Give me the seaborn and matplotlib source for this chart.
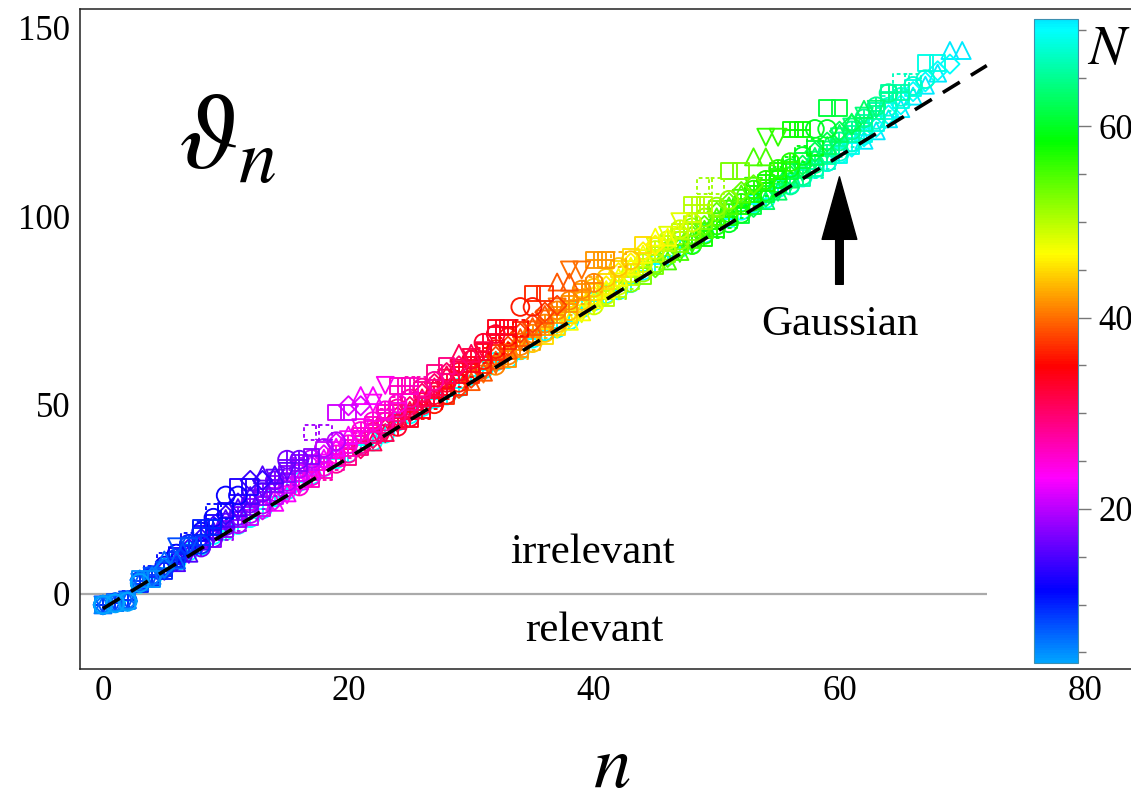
import numpy as np
import matplotlib
matplotlib.use("Agg")
import matplotlib.pyplot as plt
import matplotlib.colors as mcolors
from matplotlib.cm import ScalarMappable
from matplotlib.ticker import MultipleLocator, FixedLocator
import seaborn as sns

# ---------------------------------------------------------------- data
# theta_n of the truncation with N couplings; each list holds the last
# eigenvalues of that truncation, i.e. n = N - len(list) ... N - 1
TAILS_BLUE = {
    4:  [-3.0, -2.6, -2.2, 2.8],
    5:  [-3.0, -2.5, -1.9, 3.9, 3.9],
    6:  [-3.0, -2.4, -2.0, 3.6, 4.3, 6.8],
    7:  [-3.0, -2.3, -1.6, 3.2, 4.8, 8.9, 8.9],
    8:  [-3.0, -2.4, -1.7, 3.0, 4.6, 6.2, 12.4, 12.4],
    9:  [-3.0, -2.3, -1.8, 3.4, 4.9, 6.6, 9.4, 13.0, 13.0],
    10: [-3.0, -2.5, -1.8, 2.6, 4.4, 6.0, 9.0, 12.6, 17.5, 17.5],
    11: [-1.5, 3.3, 5.2, 8.6, 10.8, 14.1, 16.9, 21.8, 21.8],
    12: [2.8, 4.6, 7.4, 10.6, 13.2, 16.4, 20.1, 26.0, 26.0],
    13: [4.6, 6.7, 9.9, 12.6, 15.9, 18.8, 22.0, 28.2, 28.2],
    14: [6.2, 8.7, 11.9, 14.6, 17.9, 20.8, 24.0, 30.0, 30.0],
}
TAILS_PURPLE = {
    15: [8.2, 10.7, 13.9, 16.6, 19.9, 22.8, 26.0, 31.5, 31.5],
    16: [10.4, 13.1, 15.6, 18.9, 21.6, 25.1, 27.7, 30.6, 32.4],
    17: [12.2, 14.7, 17.9, 20.6, 23.9, 26.8, 30.0, 35.5, 35.5],
    18: [14.4, 17.1, 19.6, 22.9, 25.6, 29.1, 31.7, 34.6, 36.4],
    19: [16.2, 18.7, 21.9, 24.6, 27.9, 30.8, 34.0, 42.7, 42.7],
    20: [18.4, 21.1, 23.6, 26.9, 29.6, 33.1, 35.7, 38.6, 40.4],
    21: [20.2, 22.7, 25.9, 28.6, 31.9, 34.8, 38.0, 48.0, 48.0],
    22: [22.2, 24.7, 27.9, 30.6, 33.9, 36.8, 40.0, 49.8, 49.8],
    23: [24.2, 26.7, 29.9, 32.6, 35.9, 38.8, 42.0, 52.5, 52.5],
    24: [26.2, 28.7, 31.9, 34.6, 37.9, 40.8, 44.0, 50.5, 55.2],
}
TAILS_RED = {
    25: [28.4, 31.1, 33.6, 36.9, 39.6, 43.1, 45.7, 48.6, 50.4],
    26: [30.2, 32.7, 35.9, 38.6, 41.9, 44.8, 48.0, 55.0, 55.0],
    27: [32.2, 34.7, 37.9, 40.6, 43.9, 46.8, 50.0, 55.4, 55.4],
    28: [34.4, 37.1, 39.6, 42.9, 45.6, 49.1, 51.7, 54.6, 56.4],
    29: [36.2, 38.7, 41.9, 44.6, 47.9, 50.8, 54.0, 58.6, 60.4],
    30: [38.4, 41.1, 43.6, 46.9, 49.6, 53.1, 55.7, 58.6, 60.4],
    31: [40.2, 42.7, 45.9, 48.6, 51.9, 54.8, 58.0, 63.7, 63.7],
    32: [42.4, 45.1, 47.6, 50.9, 53.6, 57.1, 59.7, 62.6, 64.4],
    33: [44.2, 46.7, 49.9, 52.6, 55.9, 58.8, 62.0, 66.5, 68.8],
    34: [46.2, 48.7, 51.9, 54.6, 57.9, 60.8, 64.0, 70.6, 70.6],
    35: [48.4, 51.1, 53.6, 56.9, 59.6, 63.1, 65.7, 68.6, 70.4],
    36: [50.2, 52.7, 55.9, 58.6, 61.9, 64.8, 68.0, 76.0, 76.0],
    37: [52.2, 54.7, 57.9, 60.6, 63.9, 66.8, 70.0, 79.6, 79.6],
}
TAILS_ORANGE = {
    38: [54.4, 57.1, 59.6, 62.9, 65.6, 69.1, 71.7, 74.6, 76.4],
    39: [56.2, 58.7, 61.9, 64.6, 67.9, 70.8, 74.0, 82.6, 82.6],
    40: [58.2, 60.7, 63.9, 66.6, 69.9, 72.8, 76.0, 85.8, 85.8],
    41: [60.4, 63.1, 65.6, 68.9, 71.6, 75.1, 77.7, 80.6, 82.4],
    42: [62.2, 64.7, 67.9, 70.6, 73.9, 76.8, 80.0, 88.4, 88.4],
    43: [64.2, 66.7, 69.9, 72.6, 75.9, 78.8, 82.0, 88.6, 88.6],
    44: [66.4, 69.1, 71.6, 74.9, 77.6, 81.1, 83.7, 86.6, 88.4],
    45: [68.2, 70.7, 73.9, 76.6, 79.9, 82.8, 86.0, 89.4, 92.4],
    46: [70.4, 73.1, 75.6, 78.9, 81.6, 85.1, 87.7, 90.6, 92.4],
    47: [72.2, 74.7, 77.9, 80.6, 83.9, 86.8, 90.0, 94.5, 94.5],
    48: [74.2, 76.7, 79.9, 82.6, 85.9, 88.8, 92.0, 95.0, 98.6],
}
TAILS_GREEN = {
    49: [76.4, 79.1, 81.6, 84.9, 87.6, 91.1, 93.7, 96.6, 98.4],
    50: [78.2, 80.7, 83.9, 86.6, 89.9, 92.8, 96.0, 103.0, 103.0],
    51: [80.2, 82.7, 85.9, 88.6, 91.9, 94.8, 98.0, 108.0, 108.0],
    52: [82.4, 85.1, 87.6, 90.9, 93.6, 97.1, 99.7, 102.6, 104.4],
    53: [84.2, 86.7, 89.9, 92.6, 95.9, 98.8, 102.0, 112.0, 112.0],
    54: [86.4, 89.1, 91.6, 94.9, 97.6, 101.1, 103.7, 106.6, 108.4],
    55: [88.2, 90.7, 93.9, 96.6, 99.9, 102.8, 106.0, 115.8, 115.8],
    56: [90.2, 92.7, 95.9, 98.6, 101.9, 104.8, 108.0, 121.0, 121.0],
    57: [92.4, 95.1, 97.6, 100.9, 103.6, 107.1, 109.7, 112.6, 114.4],
    58: [94.2, 96.7, 99.9, 102.6, 105.9, 108.8, 112.0, 123.0, 123.0],
    59: [96.4, 99.1, 101.6, 104.9, 107.6, 111.1, 113.7, 116.6, 118.4],
    60: [98.2, 100.7, 103.9, 106.6, 109.9, 112.8, 116.0, 123.2, 123.2],
    61: [100.2, 102.7, 105.9, 108.6, 111.9, 114.8, 118.0, 128.8, 128.8],
}
TAILS_CYAN = {
    62: [102.4, 105.1, 107.6, 110.9, 113.6, 117.1, 119.7, 122.6, 124.4],
    63: [104.2, 106.7, 109.9, 112.6, 115.9, 118.8, 122.0, 125.0, 128.4],
    64: [106.4, 109.1, 111.6, 114.9, 117.6, 121.1, 123.7, 126.6, 128.4],
    65: [108.2, 110.7, 113.9, 116.6, 119.9, 122.8, 126.0, 129.2, 132.7],
    66: [110.2, 112.7, 115.9, 118.6, 121.9, 124.8, 128.0, 132.9, 132.9],
    67: [112.2, 114.7, 117.9, 120.6, 123.9, 126.8, 130.0, 135.7, 135.7],
    68: [114.4, 117.1, 119.6, 122.9, 125.6, 129.1, 131.7, 134.6, 136.4],
    69: [116.2, 118.7, 121.9, 124.6, 127.9, 130.8, 134.0, 140.7, 140.7],
    70: [118.4, 121.1, 123.6, 126.9, 129.6, 133.1, 135.7, 138.6, 140.4],
    71: [120.2, 122.7, 125.9, 128.6, 131.9, 134.8, 138.0, 144.0, 144.0],
}

# converged values of the largest truncation (n = 0 ... 62)
BASE_N = 70
BASE_THETA = [-3.0, -2.4, -1.9, 2.6, 4.1, 6.9, 8.4, 11.2, 12.6, 15.5,
              16.6, 18.2, 20.0, 22.3, 25.5, 27.4, 29.6, 31.4, 33.5, 35.6,
              37.2, 39.5, 40.3, 42.4, 45.6, 47.5, 49.4, 51.6, 52.5, 54.6,
              57.7, 59.4, 61.5, 62.2, 64.5, 67.6, 69.5, 70.3, 72.4, 75.6,
              77.5, 79.4, 80.4, 82.3, 85.6, 87.4, 89.5, 91.6, 92.5, 95.4,
              97.6, 99.4, 101.5, 103.4, 104.6, 107.5, 108.4, 110.3, 112.6,
              114.4, 116.5, 119.6, 121.5]

GAUSS_N     = [0, 72]
GAUSS_THETA = [-4, 140]

X_TICKS    = [0, 20, 40, 60, 80]
Y_TICKS    = [0, 50, 100, 150]
CBAR_TICKS = [20, 40, 60]
N_RANGE    = (3.9, 71.2)

# ---------------------------------------------------------------- style
W_PX, H_PX = 1131, 794
X_LIM = (-1.87, 86.0)
Y_LIM = (-20.0, 155.0)
PX_PER_N = 12.275

MARKER_CYCLE = ['o', 's', 'D', '^', 'v', 'o+', 's+', 's:']
SIZES = {'o': 165, 's': 125, 'D': 95, '^': 150, 'v': 150}
LW = 1.35

sns.set_style("white")
plt.rcParams['font.family'] = ['Liberation Serif', 'DejaVu Serif']
plt.rcParams['mathtext.fontset'] = 'stix'
plt.rcParams['text.color'] = 'black'

# Mathematica-like Hue scale: deep sky blue -> blue -> magenta -> red
# -> yellow -> green -> cyan
hues = (np.linspace(201.7, 545.0, 256) % 360.0) / 360.0
cmap = mcolors.ListedColormap(
    mcolors.hsv_to_rgb(np.column_stack([hues, np.ones(256), np.ones(256)])))
norm = mcolors.Normalize(*N_RANGE)


def hollow(pc, col, ls='solid'):
    pc.set_facecolor('none')
    pc.set_edgecolor(col)
    pc.set_linestyle(ls)


def draw_series(ax, n, theta, N, mk):
    col = cmap(norm(N))
    shape = mk[0]
    ls = (0, (2.0, 1.6)) if mk.endswith(':') else 'solid'
    sns.scatterplot(x=n, y=theta, marker=shape, s=SIZES[shape], color=col,
                    linewidth=LW, legend=False, zorder=3, ax=ax)
    hollow(ax.collections[-1], col, ls)
    if mk.endswith('+'):
        sns.scatterplot(x=n, y=theta, marker='+', s=SIZES[shape], color=col,
                        linewidth=LW, legend=False, zorder=3, ax=ax)
        hollow(ax.collections[-1], col)


fig = plt.figure(figsize=(W_PX / 100, H_PX / 100), dpi=100)
ax_w = (X_LIM[1] - X_LIM[0]) * PX_PER_N / W_PX
ax = fig.add_axes([80 / W_PX, 1 - 669 / H_PX, ax_w, 660 / H_PX])
ax.set_xlim(*X_LIM)
ax.set_ylim(*Y_LIM)

# relevant / irrelevant separator
ax.hlines(0, X_LIM[0], GAUSS_N[-1], color='#aaaaaa', lw=1.6, zorder=1)

# all truncations, largest first so that small N ends up on top
tails = {}
for group in (TAILS_BLUE, TAILS_PURPLE, TAILS_RED, TAILS_ORANGE,
              TAILS_GREEN, TAILS_CYAN):
    tails.update(group)
order = sorted(tails)
markers = {N: MARKER_CYCLE[i % len(MARKER_CYCLE)] for i, N in enumerate(order)}

draw_series(ax, np.arange(len(BASE_THETA)), BASE_THETA, BASE_N, 'o+')
for N in reversed(order):
    vals = tails[N]
    n = np.arange(N - len(vals), N)
    draw_series(ax, n, vals, N, markers[N])

# Gaussian scaling
sns.lineplot(x=GAUSS_N, y=GAUSS_THETA, color='k', lw=2.6,
             linestyle=(0, (5.5, 3.6)), zorder=5, ax=ax)

ax.annotate('', xy=(60, 110.5), xytext=(60, 82),
            arrowprops=dict(width=5.5, headwidth=25, headlength=45,
                            shrink=0, color='k'), zorder=6)
ax.text(60, 71.2, 'Gaussian', fontsize=31, ha='center', va='center')
ax.text(39.9, 10.9, 'irrelevant', fontsize=31, ha='center', va='center')
ax.text(40.0, -9.8, 'relevant', fontsize=31, ha='center', va='center')
ax.text(6.1, 112.8, r'$\vartheta_n$', fontsize=78, ha='left',
        va='baseline')

# axes frame and ticks
ax.spines['right'].set_visible(False)
for side in ('left', 'bottom', 'top'):
    ax.spines[side].set_linewidth(1.1)
    ax.spines[side].set_color('#222222')
ax.set_xticks(X_TICKS)
ax.set_yticks(Y_TICKS)
ax.xaxis.set_minor_locator(MultipleLocator(5))
ax.yaxis.set_minor_locator(MultipleLocator(10))
ax.tick_params(which='both', direction='in', top=False, right=False,
               color='#555555', width=1.0, labelsize=25, labelcolor='black')
ax.tick_params(which='major', length=9)
ax.tick_params(which='minor', length=5.5)
ax.tick_params(axis='x', pad=4)
ax.tick_params(axis='y', pad=7)
ax.grid(False)

ax.set_xlabel(r'$n$', fontsize=54, va='baseline', color='black')
ax.xaxis.set_label_coords((612 - 80) / (ax_w * W_PX), -(787 - 669) / 660)
ax.set_ylabel('')

# colour scale for N
cax = fig.add_axes([1034 / W_PX, 1 - 663 / H_PX, 44 / W_PX, 644 / H_PX])
cb = fig.colorbar(ScalarMappable(norm=norm, cmap=cmap), cax=cax)
cb.set_ticks(CBAR_TICKS)
cax.yaxis.set_minor_locator(FixedLocator(np.arange(5, 71, 5)))
cax.tick_params(which='both', direction='out', color='#777777', width=1.0,
                labelsize=25, labelcolor='black', pad=6)
cax.tick_params(which='major', length=9)
cax.tick_params(which='minor', length=5.5)
cb.outline.set_linewidth(0.8)
cb.outline.set_edgecolor('#3d8fb0')
cax.text(1.2, 0.93, r'$N$', transform=cax.transAxes, fontsize=40,
         ha='left', va='baseline')

fig.savefig('out.png', dpi=100)
